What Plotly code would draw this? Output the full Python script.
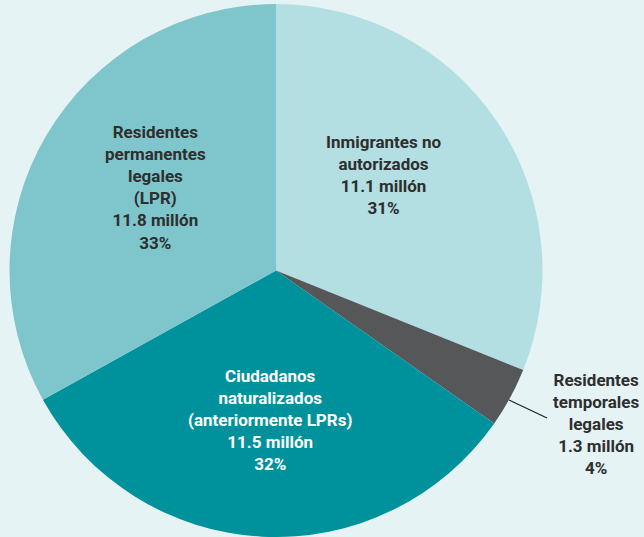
import plotly.graph_objects as go

categories = ["Inmigrantes no<br>autorizados", "Residentes<br>temporales<br>legales",
              "Ciudadanos<br>naturalizados<br>(anteriormente LPRs)",
              "Residentes<br>permanentes<br>legales<br>(LPR)"]
values_millions = [11.1, 1.3, 11.5, 11.8]
percent_labels = ["31%", "4%", "32%", "33%"]
colors = ["#b3dfe2", "#555759", "#00929c", "#7fc6cc"]
text_colors = ["#2e2e2e", "#2e2e2e", "#ffffff", "#2e2e2e"]

W, H = 644, 537
mt, mb = 4, 0
ph = H - mt - mb

def px(x):
    return x / W

def py(y):
    return 1 - (y - mt) / ph

fig = go.Figure(go.Pie(
    labels=[c.replace("<br>", " ") for c in categories],
    values=values_millions,
    marker=dict(colors=colors, line=dict(width=0)),
    sort=False,
    direction="clockwise",
    rotation=0,
    textinfo="none",
    hoverinfo="label+value+percent",
    domain=dict(x=[0, 552 / W], y=[0, 1]),
    showlegend=False,
))

label_pos = [(383, 175), (596, 424), (270, 420), (155, 187)]
font_family = "Roboto"
for cat, v, pct, tc, (lx, ly) in zip(categories, values_millions, percent_labels, text_colors, label_pos):
    fig.add_annotation(
        x=px(lx), y=py(ly), xref="paper", yref="paper",
        text=f"<b>{cat}<br>{v} millón<br>{pct}</b>",
        showarrow=False, align="center", xanchor="center", yanchor="middle",
        font=dict(family=font_family, size=17, color=tc),
    )

fig.add_shape(type="line", xref="paper", yref="paper",
              x0=px(509), y0=py(400), x1=px(547), y1=py(418),
              line=dict(color="#222222", width=1.2))

fig.update_layout(
    width=W, height=H,
    margin=dict(l=0, r=0, t=mt, b=mb),
    paper_bgcolor="#e5f3f5",
    plot_bgcolor="#e5f3f5",
)

fig.write_html("out.html", config={"displayModeBar": False},
               post_script="document.body.style.margin='0';document.body.style.background='#e5f3f5';")
